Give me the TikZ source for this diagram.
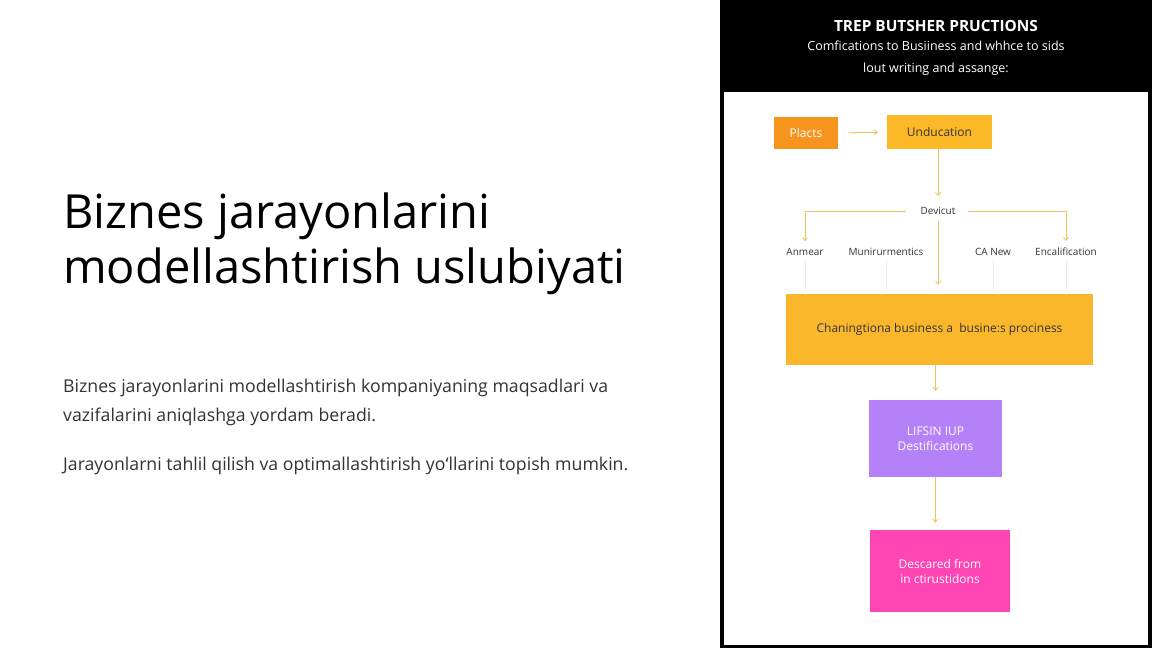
\documentclass[tikz,border=0pt]{standalone}
\usepackage{fontspec}
\setmainfont{Open Sans}
\usetikzlibrary{arrows.meta, positioning}
\definecolor{plorange}{HTML}{F7941D}
\definecolor{unyellow}{HTML}{FDB827}
\definecolor{bigyellow}{HTML}{FBB72C}
\definecolor{lfpurple}{HTML}{B581F8}
\definecolor{dcpink}{HTML}{FF45B4}
\definecolor{arrline}{HTML}{EDC45A}
\definecolor{bodygray}{HTML}{333333}

\begin{document}
\begin{tikzpicture}[x=1pt,y=-1pt]
	\tikzstyle{box}=[fill,draw=none,inner sep=0pt,align=center,font=\fontsize{12}{15}\selectfont]
	\tikzstyle{lbl}=[inner sep=2pt,font=\fontsize{10}{12}\selectfont,text=black!80]
	\tikzstyle{arr}=[draw=arrline,line width=0.8pt,-{Straight Barb[length=3pt,width=5pt]}]
	\useasboundingbox (0,0) rectangle (1152,648);
	\fill[white] (0,0) rectangle (1152,648);
	% left text
	\node (title1) [anchor=base west,inner sep=0pt,font=\fontsize{47}{55}\selectfont] at (63,228) {Biznes jarayonlarini};
	\node (title2) [anchor=base west,inner sep=0pt,font=\fontsize{47}{55}\selectfont] at (63,283) {modellashtirish uslubiyati};
	\node (body1) [anchor=base west,inner sep=0pt,text=bodygray,font=\fontsize{17.7}{20}\selectfont] at (63,392) {Biznes jarayonlarini modellashtirish kompaniyaning maqsadlari va};
	\node (body2) [anchor=base west,inner sep=0pt,text=bodygray,font=\fontsize{17.7}{20}\selectfont] at (63,421) {vazifalarini aniqlashga yordam beradi.};
	\node (body3) [anchor=base west,inner sep=0pt,text=bodygray,font=\fontsize{17.7}{20}\selectfont] at (63,470) {Jarayonlarni tahlil qilish va optimallashtirish yo‘llarini topish mumkin.};
	% picture frame
	\fill[black] (720,0) rectangle (1152,648);
	\fill[white] (724,92) rectangle (1148,645);
	\node (head) [text=white,font=\bfseries\fontsize{15.4}{18}\selectfont] at (936,26) {TREP BUTSHER PRUCTIONS};
	\node (sub1) [text=white,font=\fontsize{12.5}{14}\selectfont] at (936,46) {Comfications to Busiiness and whhce to sids};
	\node (sub2) [text=white,font=\fontsize{12.5}{14}\selectfont] at (936,69) {lout writing and assange:};
	% flow
	\node (placts) [box,fill=plorange,text=white,minimum width=64pt,minimum height=32pt] at (806,133) {Placts};
	\node (unduc) [box,fill=unyellow,text=black!80,minimum width=105pt,minimum height=34pt] at (939.5,132) {Unducation};
	\node (devicut) [lbl] at (938,211) {Devicut};
	\node (anmear) [lbl] at (805,252) {Anmear};
	\node (munir) [lbl] at (886,252) {Munirurmentics};
	\node (canew) [lbl] at (993,252) {CA New};
	\node (encal) [lbl] at (1066,252) {Encalification};
	\node (chan) [box,fill=bigyellow,text=black!80,minimum width=307pt,minimum height=71pt] at (939.5,329.5) {Chaningtiona business a\ \ busine:s prociness};
	\node (lifsin) [box,fill=lfpurple,text=white,minimum width=133pt,minimum height=77pt] at (935.5,438.5) {LIFSIN IUP\\Destifications};
	\node (descared) [box,fill=dcpink,text=white,minimum width=140pt,minimum height=82pt] at (940,571) {Descared from\\in ctirustidons};
	\draw[arr, shorten <=10pt, shorten >=9pt] (placts) -- (unduc);
	\draw[arr, shorten >=9pt] (unduc.south -| devicut.north) -- (devicut.north);
	\draw[arr, shorten <=12pt, shorten >=5pt] (devicut.west) -| (anmear.north);
	\draw[arr, shorten <=10pt, shorten >=5pt] (devicut.east) -| (encal.north);
	\draw[arr, shorten <=4pt, shorten >=9pt] (devicut.south) -- (devicut.south |- chan.north);
	\foreach \n in {anmear, munir, canew, encal}
		\draw[black!8, line width=0.6pt, shorten <=3pt, shorten >=4pt] (\n.south) -- (\n.south |- chan.north);
	\draw[arr, shorten >=9pt] (lifsin.north |- chan.south) -- (lifsin.north);
	\draw[arr, shorten >=7pt] (lifsin.south) -- (lifsin.south |- descared.north);
\end{tikzpicture}
\end{document}
